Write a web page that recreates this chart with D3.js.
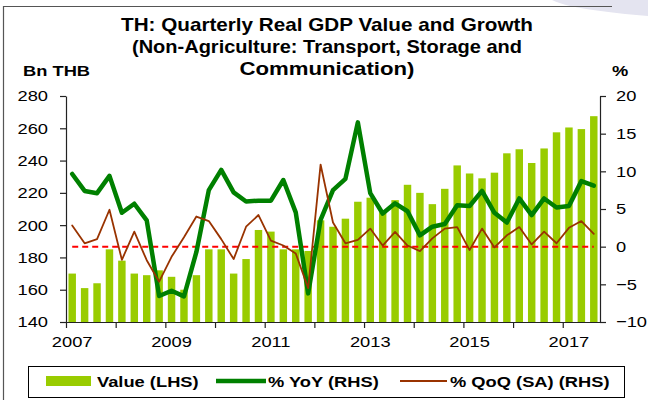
<!DOCTYPE html>
<html>
<head>
<meta charset="utf-8">
<script src="https://cdn.jsdelivr.net/npm/d3@7"></script>
<style>
  html, body { margin: 0; padding: 0; background: #fff; }
  svg { display: block; }
  text { font-family: "Liberation Sans", Arial, Helvetica, sans-serif; fill: #000; }
</style>
</head>
<body>
<svg id="chart" width="648" height="400"></svg>
<script>
// ---------------- data ----------------
const years = [2007, 2008, 2009, 2010, 2011, 2012, 2013, 2014, 2015, 2016, 2017];
const quarterNames = ["Q1", "Q2", "Q3", "Q4"];
const categories = [];
years.forEach(y => quarterNames.forEach(q => categories.push(y + q)));
categories.length = 43; // 2007Q1 .. 2017Q3

// Real GDP value, Bn THB (LHS)
const valueLHS = [170, 161, 164, 185, 178, 170, 169, 172,
                  168, 160, 169, 185, 185, 170, 179, 197,
                  196, 185, 185, 184, 203, 199, 204, 214.5,
                  217, 208, 215.5, 225, 220, 213, 222.5, 237,
                  232, 229, 232.5, 244.5, 247, 238.5, 247.5, 257.5,
                  260.5, 259.5, 267.5];
// % YoY (RHS)
const yoyRHS = [9.65, 7.4, 7.1, 9.4, 4.5, 5.7, 3.5, -6.55,
                -5.85, -6.6, -0.7, 7.5, 10.2, 7.2, 6.0, 6.1,
                6.1, 8.85, 4.55, -6.2, 3.55, 7.5, 9.0, 16.5,
                7.1, 4.4, 5.75, 4.7, 1.5, 2.65, 3.0, 5.5,
                5.4, 7.4, 4.5, 3.2, 6.4, 4.2, 6.4, 5.2,
                5.4, 8.7, 8.1];
// % QoQ (SA) (RHS)
const qoqRHS = [2.8, 0.45, 1.0, 4.9, -1.75, 2.0, -1.8, -4.65,
                -1.35, 1.25, 4.0, 3.4, 1.0, -1.65, 2.65, 4.2,
                0.8, 0.15, -0.9, -5.5, 10.9, 3.2, 0.45, 0.9,
                2.4, 0.15, 1.95, 0.15, -0.6, 1.1, 2.4, 2.6,
                -0.45, 2.4, -0.1, 1.5, 2.6, 0.3, 2.0, 0.45,
                2.5, 3.4, 1.7];

const leftTicks = [140, 160, 180, 200, 220, 240, 260, 280];
const rightTicks = [-10, -5, 0, 5, 10, 15, 20];
const yearLabels = ["2007", "2009", "2011", "2013", "2015", "2017"];
const yearTickIdx = [0, 4, 8, 12, 16, 20, 24, 28, 32, 36, 40];

const titleLines = ["TH: Quarterly Real GDP Value and Growth",
                    "(Non-Agriculture: Transport, Storage and",
                    "Communication)"];
const legendItems = ["Value (LHS)", "% YoY (RHS)", "% QoQ (SA) (RHS)"];

// ---------------- layout ----------------
const svg = d3.select("#chart");
const X0 = 66, X1 = 600, Y0 = 96, Y1 = 322;
const STRETCH = 1.18;
const cGreenBar = "#99CC00", cYoY = "#008000", cQoQ = "#993300", cZero = "#FF0000";

function stretch(sel, f) {
  sel.each(function () {
    const w = this.getComputedTextLength();
    d3.select(this).attr("textLength", w * f).attr("lengthAdjust", "spacingAndGlyphs");
  });
}

// frame
svg.append("path").attr("d", "M552,0 L648,0 L648,16 Q600,12 570,6 Q558,3 552,0 Z")
  .attr("fill", "#E4E4F0");
svg.append("line").attr("x1", 3.5).attr("x2", 3.5).attr("y1", 6).attr("y2", 400)
  .attr("stroke", "#555").attr("stroke-width", 1.2);
svg.append("line").attr("x1", 3).attr("x2", 612).attr("y1", 6.5).attr("y2", 6.5)
  .attr("stroke", "#555").attr("stroke-width", 1.2);

// scales
const x = d3.scaleBand().domain(categories).range([X0, X1]).paddingInner(0.4).paddingOuter(0.2);
const xi = d3.scaleLinear().domain([0, categories.length]).range([X0, X1]);
const yL = d3.scaleLinear().domain([140, 280]).range([Y1, Y0]);
const yR = d3.scaleLinear().domain([-10, 20]).range([Y1, Y0]);
const cx = d => x(d) + x.bandwidth() / 2;

// bars
svg.append("g").selectAll("rect").data(categories).join("rect")
  .attr("x", d => x(d)).attr("width", x.bandwidth())
  .attr("y", (d, i) => yL(valueLHS[i]))
  .attr("height", (d, i) => Y1 - yL(valueLHS[i]))
  .attr("fill", cGreenBar);

// zero line (dashed)
svg.append("path").datum(categories)
  .attr("d", d3.line().x(d => cx(d)).y(() => yR(0)))
  .attr("fill", "none").attr("stroke", cZero).attr("stroke-width", 2)
  .attr("stroke-dasharray", "6,4");

// YoY line
svg.append("path").datum(categories)
  .attr("d", d3.line().x(d => cx(d)).y((d, i) => yR(yoyRHS[i])))
  .attr("fill", "none").attr("stroke", cYoY).attr("stroke-width", 4.5)
  .attr("stroke-linejoin", "round").attr("stroke-linecap", "round");

// QoQ line
svg.append("path").datum(categories)
  .attr("d", d3.line().x(d => cx(d)).y((d, i) => yR(qoqRHS[i])))
  .attr("fill", "none").attr("stroke", cQoQ).attr("stroke-width", 1.8)
  .attr("stroke-linejoin", "round").attr("stroke-linecap", "round");

// axes
const axL = svg.append("g").attr("transform", `translate(${X0},0)`)
  .call(d3.axisLeft(yL).tickValues(leftTicks).tickSize(6).tickSizeOuter(0).tickPadding(12));
const axR = svg.append("g").attr("transform", `translate(${X1},0)`)
  .call(d3.axisRight(yR).tickValues(rightTicks).tickSize(6).tickSizeOuter(0).tickPadding(10));
const axB = svg.append("g").attr("transform", `translate(0,${Y1})`)
  .call(d3.axisBottom(xi).tickValues(yearTickIdx).tickSize(6).tickSizeOuter(0).tickFormat(""));
[axL, axR, axB].forEach(g => {
  g.select(".domain").attr("stroke", "#222").attr("stroke-width", 1.2);
  g.selectAll(".tick line").attr("stroke", "#222").attr("stroke-width", 1.2);
  g.selectAll(".tick text").attr("font-size", 15.5).attr("fill", "#000")
    .style("font-family", '"Liberation Sans", Arial, sans-serif');
});
stretch(axL.selectAll(".tick text"), STRETCH);
stretch(axR.selectAll(".tick text"), STRETCH);

// year labels at Q1 of odd years
svg.append("g").selectAll("text").data(yearLabels).join("text")
  .attr("x", d => cx(d + "Q1")).attr("y", 347)
  .attr("text-anchor", "middle").attr("font-size", 15.5)
  .text(d => d)
  .call(s => stretch(s, STRETCH));

// axis titles
svg.append("text").attr("x", 23).attr("y", 76).attr("font-size", 15.5)
  .attr("font-weight", "bold").text("Bn THB").call(s => stretch(s, STRETCH));
svg.append("text").attr("x", 612).attr("y", 76).attr("font-size", 15.5)
  .attr("font-weight", "bold").text("%").call(s => stretch(s, STRETCH));

// title
const titleY = [31, 53, 75];
const titleW = [412, 390, 175];
svg.append("g").selectAll("text").data(titleLines).join("text")
  .attr("x", 327).attr("y", (d, i) => titleY[i])
  .attr("text-anchor", "middle").attr("font-size", 18.5).attr("font-weight", "bold")
  .attr("textLength", (d, i) => titleW[i]).attr("lengthAdjust", "spacingAndGlyphs")
  .text(d => d);

// legend
const lg = svg.append("g");
lg.append("rect").attr("x", 28.5).attr("y", 366.5).attr("width", 596).attr("height", 31)
  .attr("fill", "#fff").attr("stroke", "#000").attr("stroke-width", 1);
lg.append("rect").attr("x", 46).attr("y", 376).attr("width", 45).attr("height", 10).attr("fill", cGreenBar);
lg.append("line").attr("x1", 216).attr("x2", 266).attr("y1", 381).attr("y2", 381)
  .attr("stroke", cYoY).attr("stroke-width", 4.5);
lg.append("line").attr("x1", 400).attr("x2", 447).attr("y1", 381).attr("y2", 381)
  .attr("stroke", cQoQ).attr("stroke-width", 1.8);
const legX = [97, 268, 450];
lg.selectAll("text.leg").data(legendItems).join("text").attr("class", "leg")
  .attr("x", (d, i) => legX[i]).attr("y", 387)
  .attr("font-size", 15.5).attr("font-weight", "bold")
  .text(d => d)
  .call(s => stretch(s, STRETCH));
</script>
</body>
</html>
